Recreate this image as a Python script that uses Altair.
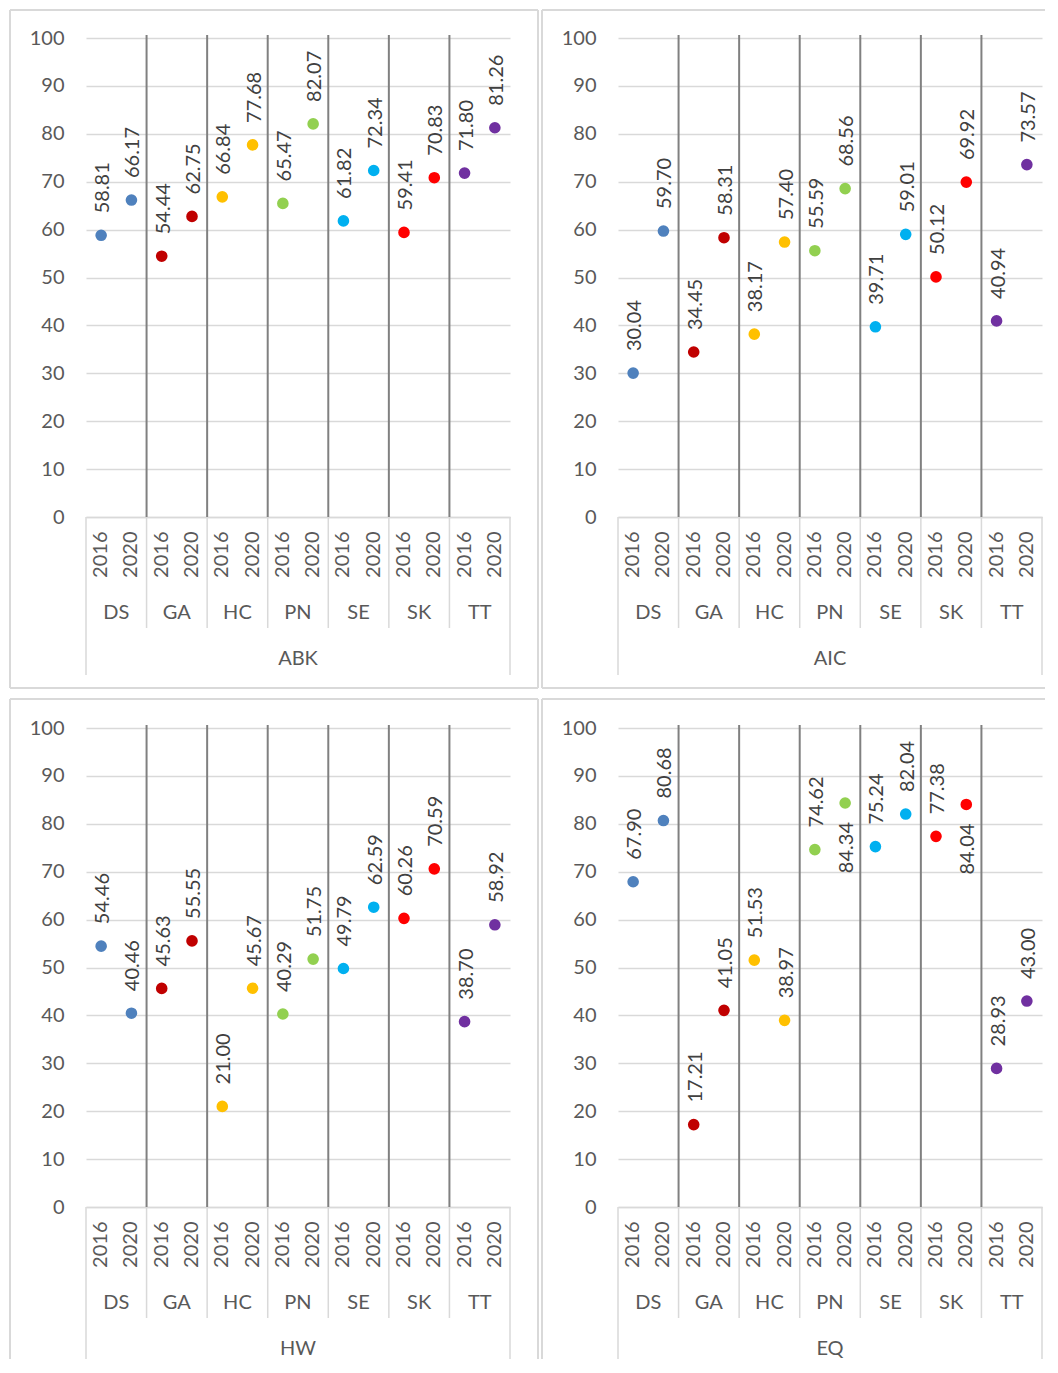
import altair as alt
import pandas as pd

groups = ["DS", "GA", "HC", "PN", "SE", "SK", "TT"]
years = ["2016", "2020"]
colors = ["#4f81bd", "#c00000", "#ffc000", "#92d050", "#00b0f0", "#ff0000", "#7030a0"]

abk_2016 = [58.81, 54.44, 66.84, 65.47, 61.82, 59.41, 71.80]
abk_2020 = [66.17, 62.75, 77.68, 82.07, 72.34, 70.83, 81.26]
aic_2016 = [30.04, 34.45, 38.17, 55.59, 39.71, 50.12, 40.94]
aic_2020 = [59.70, 58.31, 57.40, 68.56, 59.01, 69.92, 73.57]
hw_2016 = [54.46, 45.63, 21.00, 40.29, 49.79, 60.26, 38.70]
hw_2020 = [40.46, 55.55, 45.67, 51.75, 62.59, 70.59, 58.92]
eq_2016 = [67.90, 17.21, 51.53, 74.62, 75.24, 77.38, 28.93]
eq_2020 = [80.68, 41.05, 38.97, 84.34, 82.04, 84.04, 43.00]

# labels placed below their point (as in the reference)
below_labels = {("EQ", "PN", "2020"), ("EQ", "SK", "2020")}

keys = [f"{g}|{y}" for g in groups for y in years]
W, H = 424, 479
FONT = "Lato"
GRID = "#d9d9d9"


def frame_edges(top, bottom, right, open_right, open_bottom):
    left = -76
    edges = [
        {"x": left, "x2": right, "y": top, "y2": top},      # top edge
        {"x": left, "x2": left, "y": top, "y2": bottom},    # left edge
    ]
    if not open_bottom:
        edges.append({"x": left, "x2": right, "y": bottom, "y2": bottom})
    if not open_right:
        edges.append({"x": right, "x2": right, "y": top, "y2": bottom})
    return pd.DataFrame(edges)


def make_panel(name, v16, v20, open_right, open_bottom):
    rows = []
    for g, a, b in zip(groups, v16, v20):
        for y, v in ((years[0], a), (years[1], b)):
            rows.append({"key": f"{g}|{y}", "group": g, "year": y, "value": v,
                         "pos": "below" if (name, g, y) in below_labels else "above"})
    df = pd.DataFrame(rows)
    sep = pd.DataFrame({"key": [f"{g}|2016" for g in groups[1:]]})
    grp = pd.DataFrame({"key": [f"{g}|2016" for g in groups], "label": groups})

    top = -29 if open_bottom else -28
    bottom = 631 if open_bottom else 650
    right = 427 if open_right else 452
    outer_end = 631 if open_bottom else 637

    xscale = alt.Scale(type="band", domain=keys, paddingInner=0, paddingOuter=0)
    xaxis = alt.Axis(labelExpr="split(datum.value, '|')[1]", labelAngle=270,
                     labelAlign="right", labelBaseline="middle", labelFontSize=20,
                     labelFont=FONT, labelColor="#595959", labelPadding=14,
                     ticks=False, tickSize=0, domain=True, domainColor=GRID,
                     domainWidth=1.5, title=None, grid=False)
    yaxis = alt.Axis(values=list(range(0, 101, 10)), grid=True, gridColor=GRID,
                     gridWidth=1.5, domain=False, ticks=False, tickSize=0,
                     labelFontSize=20, labelFont=FONT, labelColor="#595959",
                     labelPadding=22, title=None)

    frame = alt.Chart(frame_edges(top, bottom, right, open_right, open_bottom)).mark_rule(
        color=GRID, strokeWidth=2).encode(
        x=alt.X("x:Q", scale=None), x2="x2:Q",
        y=alt.Y("y:Q", scale=None), y2="y2:Q")

    base = alt.Chart(df)
    points = base.mark_circle(size=135, opacity=1).encode(
        x=alt.X("key:N", scale=xscale, axis=xaxis, sort=keys),
        y=alt.Y("value:Q", scale=alt.Scale(domain=[0, 100]), axis=yaxis),
        color=alt.Color("group:N", scale=alt.Scale(domain=groups, range=colors), legend=None),
    )
    lab_above = base.transform_filter("datum.pos == 'above'").mark_text(
        angle=270, align="left", baseline="middle", dx=22, dy=2,
        fontSize=20, font=FONT, color="#404040").encode(
        x=alt.X("key:N", sort=keys), y="value:Q",
        text=alt.Text("value:Q", format=".2f"))
    lab_below = base.transform_filter("datum.pos == 'below'").mark_text(
        angle=270, align="right", baseline="middle", dx=-19, dy=2,
        fontSize=20, font=FONT, color="#404040").encode(
        x=alt.X("key:N", sort=keys), y="value:Q",
        text=alt.Text("value:Q", format=".2f"))

    dark_sep = alt.Chart(sep).mark_rule(color="#808080", strokeWidth=2).encode(
        x=alt.X("key:N", bandPosition=0, sort=keys), y=alt.value(-3), y2=alt.value(H))
    light_sep = alt.Chart(sep).mark_rule(color=GRID, strokeWidth=1.5).encode(
        x=alt.X("key:N", bandPosition=0, sort=keys), y=alt.value(H), y2=alt.value(H + 111))
    outer = alt.Chart(pd.DataFrame({"xp": [0, W]})).mark_rule(color=GRID, strokeWidth=1.5).encode(
        x=alt.X("xp:Q", scale=None), y=alt.value(H), y2=alt.value(outer_end))
    glabels = alt.Chart(grp).mark_text(fontSize=20, font=FONT, color="#595959",
                                       baseline="middle", align="center").encode(
        x=alt.X("key:N", bandPosition=1, sort=keys), y=alt.value(H + 96), text="label:N")
    plabel = alt.Chart(pd.DataFrame({"label": [name]})).mark_text(
        fontSize=20, font=FONT, color="#595959", baseline="middle", align="center").encode(
        x=alt.value(W / 2), y=alt.value(H + 142), text="label:N")

    return alt.layer(frame, dark_sep, light_sep, outer, points, lab_above, lab_below,
                     glabels, plabel).properties(width=W, height=H)


charts = [make_panel("ABK", abk_2016, abk_2020, False, False),
          make_panel("AIC", aic_2016, aic_2020, True, False),
          make_panel("HW", hw_2016, hw_2020, False, True),
          make_panel("EQ", eq_2016, eq_2020, True, True)]

chart = alt.concat(*charts, columns=2, spacing={"row": 211, "column": 108},
                   bounds="flush").properties(
    padding={"left": 1, "top": 1, "right": 0, "bottom": 0},
    background="white",
).configure_view(stroke=None)

chart.save("out.html", embed_options={"renderer": "svg", "actions": False})
